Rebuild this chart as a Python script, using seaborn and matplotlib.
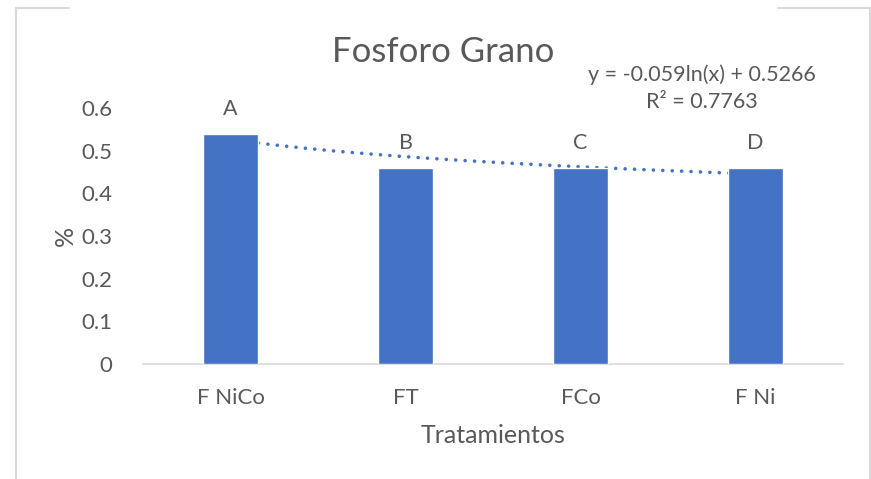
import numpy as np
import pandas as pd
import matplotlib
matplotlib.use("Agg")
import matplotlib.pyplot as plt
from matplotlib.lines import Line2D
import seaborn as sns

categories = ["F NiCo", "FT", "FCo", "F Ni"]
values = [0.54, 0.46, 0.46, 0.46]
letters = ["A", "B", "C", "D"]
yticks = [0, 0.1, 0.2, 0.3, 0.4, 0.5, 0.6]

sns.set_theme(style="white")
plt.rcParams['font.family'] = ['Lato', 'DejaVu Sans']

W, H = 871, 479
fig = plt.figure(figsize=(W / 100, H / 100), dpi=100)
ax = fig.add_axes([143 / W, (H - 364) / H, 700 / W, (364 - 108) / H])

df = pd.DataFrame({"cat": categories, "val": values})
sns.barplot(data=df, x="cat", y="val", color="#4472C4", width=0.31,
            saturation=1, ax=ax, zorder=3)

# logarithmic trendline fitted on the data
xs = np.arange(1, len(values) + 1)
b, a = np.polyfit(np.log(xs), values, 1)
yfit = a + b * np.log(xs)
r2 = 1 - np.sum((np.array(values) - yfit) ** 2) / np.sum((np.array(values) - np.mean(values)) ** 2)
xx = np.linspace(1, len(values), 200)
ax.plot(xx - 1, a + b * np.log(xx), linestyle=(0, (0.01, 2.6)), color="#4472C4",
        linewidth=2.6, zorder=2, dash_capstyle="round")

txt = "#595959"
for i, (v, l) in enumerate(zip(values, letters)):
    ax.annotate(l, (i, v), xytext=(0, 25), textcoords="offset pixels",
                ha="center", va="center", fontsize=15.5, color=txt)

ax.set_ylim(0, 0.6)
ax.set_xlim(-0.5, len(values) - 0.5)
ax.set_yticks(yticks)
ax.set_yticklabels([f"{t:g}" for t in yticks])
ax.tick_params(axis="both", length=0, labelsize=16, colors=txt)
ax.tick_params(axis="y", pad=22)
ax.tick_params(axis="x", pad=17)
for s in ["top", "right", "left"]:
    ax.spines[s].set_visible(False)
ax.spines["bottom"].set_color("#D9D9D9")
ax.spines["bottom"].set_linewidth(1.2)
ax.set_xlabel("Tratamientos", fontsize=18, color=txt, labelpad=12)
ax.set_ylabel("%", fontsize=18, color=txt, labelpad=3)
ax.set_facecolor("none")

fig.text(443 / W, 1 - 52 / H, "Fosforo Grano", ha="center", va="center",
         fontsize=25, color=txt)
fig.text(702 / W, 1 - 75 / H, f"y = {b:.3f}ln(x) + {a:.4f}", ha="center",
         va="center", fontsize=15.5, color=txt)
fig.text(702 / W, 1 - 102 / H, f"R² = {r2:.4f}", ha="center",
         va="center", fontsize=15.5, color=txt)

# chart frame fragments
bc = "#D9D9D9"
fig.add_artist(Line2D([16 / W, 16 / W], [0, 1 - 8 / H], color=bc, lw=1.5, transform=fig.transFigure))
fig.add_artist(Line2D([16 / W, 69 / W], [1 - 8 / H, 1 - 8 / H], color=bc, lw=1.5, transform=fig.transFigure))
fig.add_artist(Line2D([778 / W, 870 / W], [1 - 8 / H, 1 - 8 / H], color=bc, lw=1.5, transform=fig.transFigure))
fig.add_artist(Line2D([870 / W, 870 / W], [0, 1 - 8 / H], color=bc, lw=1.5, transform=fig.transFigure))

fig.savefig("out.png", dpi=100, facecolor="white")
